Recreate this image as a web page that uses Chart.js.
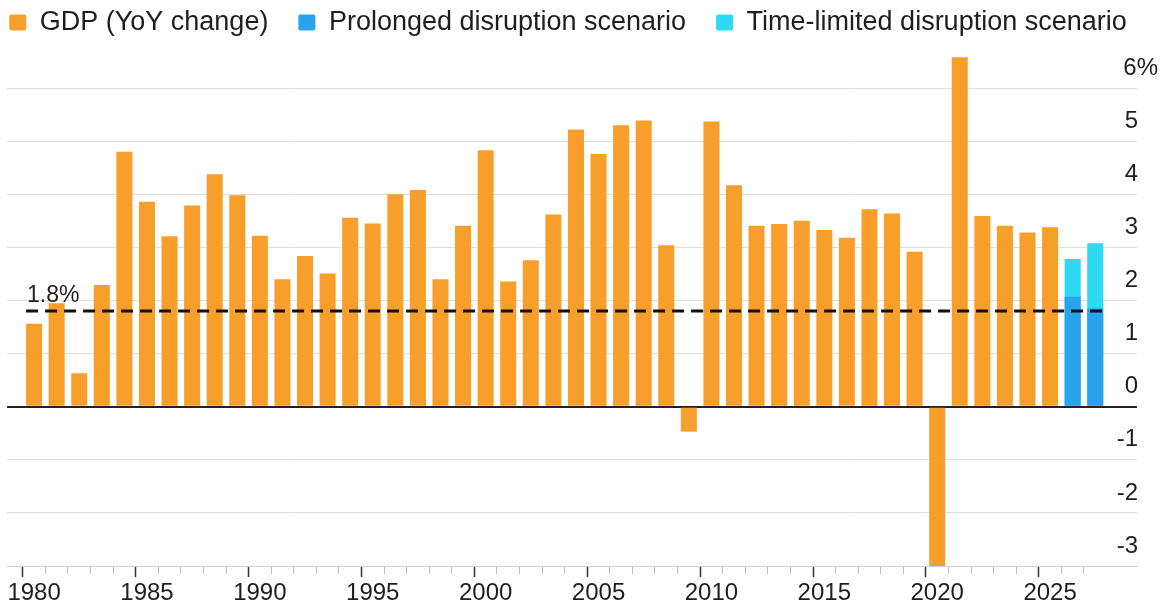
<!DOCTYPE html>
<html>
<head>
<meta charset="utf-8">
<script src="https://cdn.jsdelivr.net/npm/chart.js@4.4.1/dist/chart.umd.min.js"></script>
<style>
  html, body { margin: 0; padding: 0; background: #ffffff; }
  canvas { display: block; }
</style>
</head>
<body>
<canvas id="chart" width="1171" height="606"></canvas>
<script>
// ---------------- data ----------------
const years = [1980, 1981, 1982, 1983, 1984, 1985, 1986, 1987, 1988, 1989,
               1990, 1991, 1992, 1993, 1994, 1995, 1996, 1997, 1998, 1999,
               2000, 2001, 2002, 2003, 2004, 2005, 2006, 2007, 2008, 2009,
               2010, 2011, 2012, 2013, 2014, 2015, 2016, 2017, 2018, 2019,
               2020, 2021, 2022, 2023, 2024, 2025, 2026, 2027];
const gdpGrowth = [1.56, 1.95, 0.63, 2.29, 4.80, 3.86, 3.21, 3.79, 4.38, 3.98,
                   3.22, 2.40, 2.84, 2.51, 3.56, 3.45, 4.00, 4.08, 2.40, 3.41,
                   4.83, 2.36, 2.76, 3.62, 5.22, 4.76, 5.30, 5.39, 3.04, -0.47,
                   5.37, 4.17, 3.41, 3.44, 3.50, 3.33, 3.18, 3.72, 3.64, 2.92,
                   -3.00, 6.58, 3.59, 3.41, 3.28, 3.38];
const scenarioYears = [2026, 2027];
const prolongedScenario = [2.07, 1.85];
const timeLimitedScenario = [2.78, 3.08];
const averageGrowth = 1.8;
const averageLabel = '1.8%';
const seriesLabels = ['GDP (YoY change)', 'Prolonged disruption scenario', 'Time-limited disruption scenario'];
const xLabelYears = [1980, 1985, 1990, 1995, 2000, 2005, 2010, 2015, 2020, 2025];
const yTickValues = [-3, -2, -1, 0, 1, 2, 3, 4, 5, 6];
const yTickLabels = ['-3', '-2', '-1', '0', '1', '2', '3', '4', '5', '6%'];

// ---------------- style ----------------
const FONT = '"Liberation Sans", Arial, Helvetica, sans-serif';
const TEXT = '#1e1e1e';
const ORANGE = '#F89E2A';
const BLUE = '#2AA3EC';
const CYAN = '#2DDAF2';
const BAR_PCT = 0.71;
const HANG = '\u2002\u2004'; // keeps digits aligned with the "6" of "6%"

Chart.defaults.font.family = FONT;
Chart.defaults.color = TEXT;

const gdpPoints = gdpGrowth.map((v, i) => ({ x: years[i], y: v }));
const prolongedPoints = prolongedScenario.map((v, i) => ({ x: scenarioYears[i], y: v }));
const timeLimitedPoints = timeLimitedScenario.map((v, i) => ({ x: scenarioYears[i], y: v }));
const avgPoints = [
  { x: years[0] - BAR_PCT / 2, y: averageGrowth },
  { x: years[years.length - 1] + BAR_PCT / 2, y: averageGrowth }
];

const avgLabelPlugin = {
  id: 'avgLabel',
  afterDatasetsDraw(chart) {
    const { ctx, scales } = chart;
    const px = scales.x.getPixelForValue(avgPoints[0].x);
    const py = scales.y.getPixelForValue(averageGrowth);
    ctx.save();
    ctx.font = '23px ' + FONT;
    ctx.fillStyle = TEXT;
    ctx.textAlign = 'left';
    ctx.textBaseline = 'alphabetic';
    ctx.fillText(averageLabel, px + 1, py - 9);
    ctx.restore();
  }
};

const barCommon = {
  type: 'bar',
  grouped: false,
  categoryPercentage: 1,
  barPercentage: BAR_PCT,
  borderWidth: 0,
  xAxisID: 'x',
  yAxisID: 'y'
};

new Chart(document.getElementById('chart'), {
  data: {
    datasets: [
      Object.assign({}, barCommon, { label: seriesLabels[0], data: gdpPoints, backgroundColor: ORANGE }),
      Object.assign({}, barCommon, { label: seriesLabels[1], data: prolongedPoints, backgroundColor: BLUE }),
      Object.assign({}, barCommon, { label: seriesLabels[2], data: timeLimitedPoints, backgroundColor: CYAN }),
      {
        type: 'line', label: 'Average', data: avgPoints,
        borderColor: '#111111', borderWidth: 3, borderDash: [12, 7],
        pointRadius: 0, fill: false, order: -1, xAxisID: 'x', yAxisID: 'y'
      }
    ]
  },
  options: {
    responsive: false,
    animation: false,
    devicePixelRatio: 1,
    events: [],
    layout: { padding: { top: -21, left: -30, right: 5, bottom: 0 } },
    plugins: {
      tooltip: { enabled: false },
      legend: {
        display: true,
        position: 'top',
        align: 'center',
        labels: {
          filter: (item) => item.datasetIndex < 3,
          font: { family: FONT, size: 27 },
          color: TEXT,
          boxWidth: 17,
          boxHeight: 16,
          padding: 30,
          useBorderRadius: true,
          borderRadius: 2
        }
      }
    },
    scales: {
      x: {
        type: 'linear',
        position: 'bottom',
        min: 1978.8,
        max: 2028.85,
        offset: false,
        afterFit: (s) => { s.height = 40; },
        grid: {
          display: true,
          drawOnChartArea: false,
          drawTicks: true,
          tickLength: 11,
          tickColor: (c) => {
            const v = c.tick ? c.tick.value : NaN;
            if (!(v >= years[0] && v <= years[years.length - 1])) return 'rgba(0,0,0,0)';
            return xLabelYears.includes(v) ? '#333333' : '#bdbdbd';
          },
          tickWidth: (c) => (c.tick && xLabelYears.includes(c.tick.value)) ? 1.5 : 1,
          tickBorderDash: (c) => (c.tick && xLabelYears.includes(c.tick.value)) ? [] : [7, 40]
        },
        border: { display: true, color: '#cfcfcf', width: 1 },
        ticks: {
          stepSize: 1,
          includeBounds: false,
          autoSkip: false,
          maxRotation: 0,
          minRotation: 0,
          padding: 2,
          font: { family: FONT, size: 24 },
          color: TEXT,
          callback: (v) => xLabelYears.includes(v) ? String(v) : ''
        }
      },
      y: {
        type: 'linear',
        position: 'right',
        weight: 0,
        min: -3,
        max: 6.793,
        afterFit: (s) => { s.width = 29; },
        grid: {
          drawTicks: false,
          color: (c) => (c.tick && c.tick.value === 0) ? '#222222' : '#dedede',
          lineWidth: (c) => (c.tick && c.tick.value === 0) ? 2 : 1
        },
        border: { display: false },
        ticks: {
          stepSize: 1,
          includeBounds: false,
          mirror: true,
          crossAlign: 'near',
          padding: 21,
          labelOffset: -20,
          font: { family: FONT, size: 24 },
          color: TEXT,
          callback: (v) => {
            const i = yTickValues.indexOf(v);
            if (i < 0) return '';
            const lbl = yTickLabels[i];
            return lbl.endsWith('%') ? lbl : lbl + HANG;
          }
        }
      },
      yLeft: {
        type: 'linear',
        position: 'left',
        min: 0,
        max: 1,
        display: true,
        afterFit: (s) => { s.width = 37; },
        grid: { display: false },
        border: { display: false },
        ticks: { display: false }
      }
    }
  },
  plugins: [avgLabelPlugin]
});
</script>
</body>
</html>
